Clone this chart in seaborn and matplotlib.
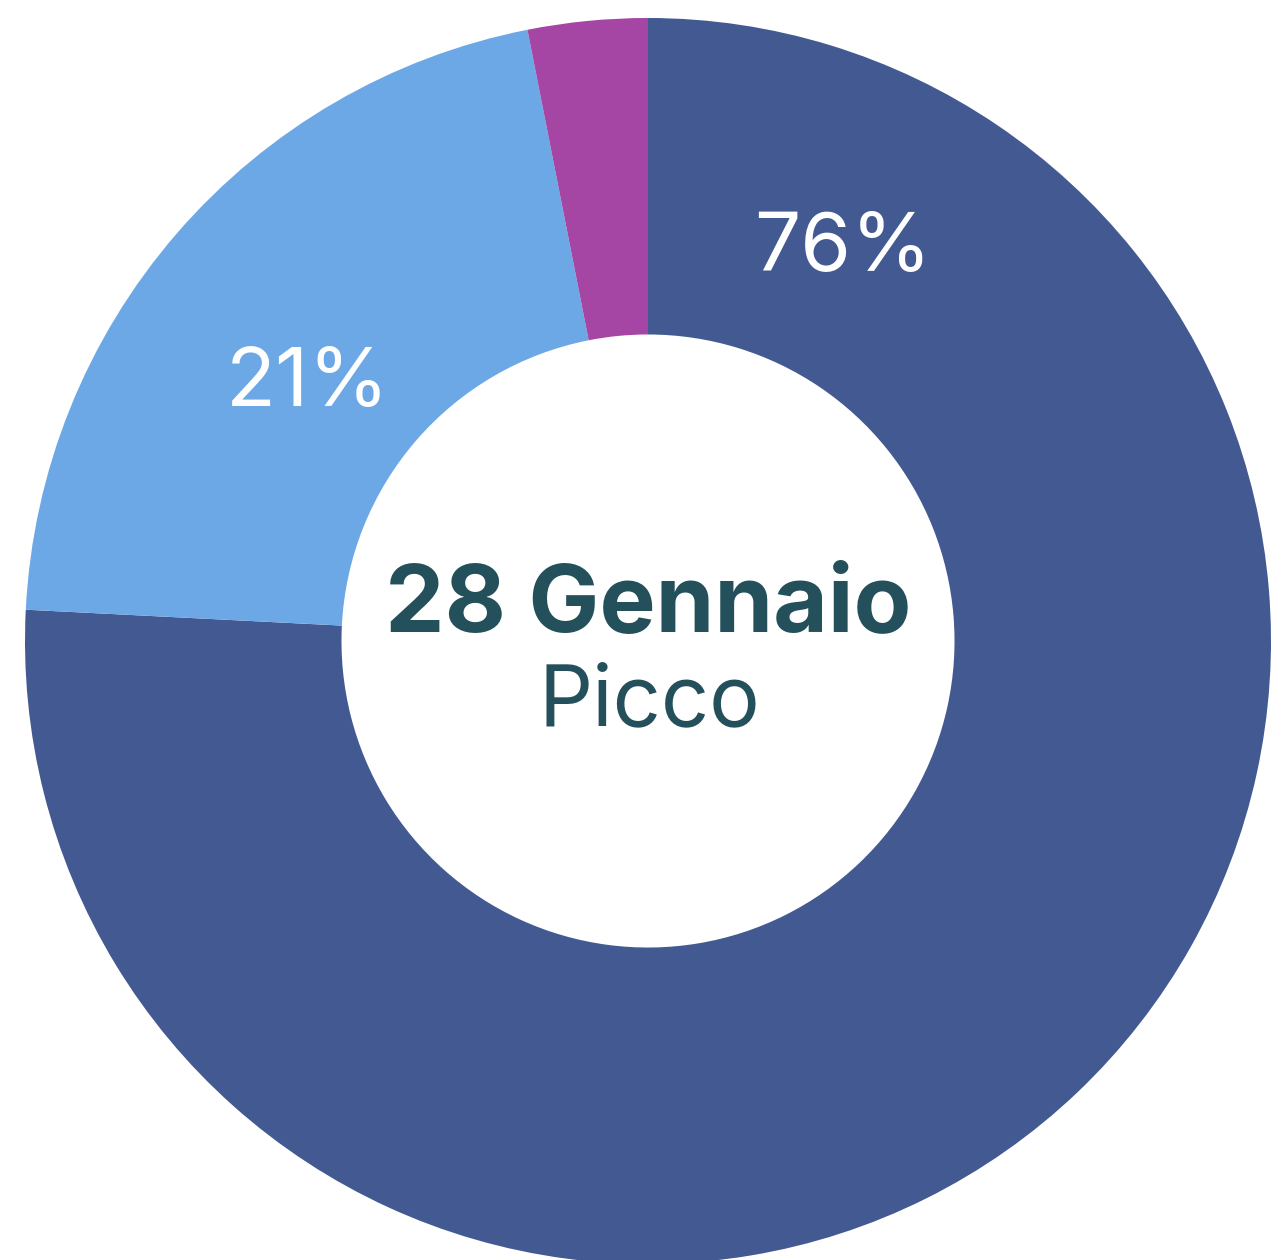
import matplotlib
matplotlib.use("Agg")
import matplotlib.pyplot as plt
import seaborn as sns

# slice data, clockwise from 12 o'clock
labels = ["76%", "21%", ""]
shares = [75.8, 21.1, 3.1]
colors = ["#435992", "#6DA8E6", "#A646A4"]

title_main = "28 Gennaio"
title_sub = "Picco"

sns.set_theme(style="white")
plt.rcParams['font.family'] = ['Inter', 'DejaVu Sans']

fig = plt.figure(figsize=(12.81, 12.60), dpi=100)
ax = fig.add_axes([0, 0, 1, 1])

wedges, _ = ax.pie(shares, colors=colors, startangle=90, counterclock=False,
                   radius=1.0, wedgeprops=dict(width=0.508, linewidth=0))

# pixel frame: centre at (648, 641), radius 623 px
ax.set_xlim(-648 / 623, (1281 - 648) / 623)
ax.set_ylim(-(1260 - 641) / 623, 641 / 623)
ax.set_aspect('auto')
ax.axis('off')

# percentage labels
ax.text(0.313, 0.594, labels[0], ha='center', va='baseline', color='white', fontsize=59)
ax.text(-0.546, 0.377, labels[1], ha='center', va='baseline', color='white', fontsize=59)

# centre text
ax.text(0, 0.0144, title_main, ha='center', va='baseline', color='#23505A',
        fontsize=68, fontweight='bold')
ax.text(0.003, -0.136, title_sub, ha='center', va='baseline', color='#23505A', fontsize=61)

fig.savefig("out.png", dpi=100)
